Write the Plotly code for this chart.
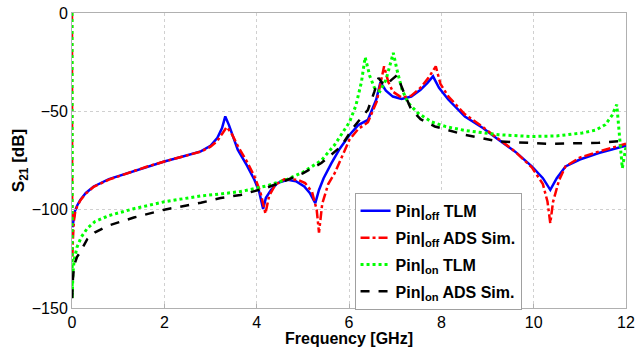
import plotly.graph_objects as go

# Pin|off TLM (blue)
off_tlm_x = [0.01, 0.03, 0.06, 0.11, 0.18, 0.3, 0.47, 0.8, 1.2, 1.6, 2.0, 2.4, 2.79, 3.0, 3.15, 3.25, 3.32,
             3.4, 3.59, 3.8, 3.95, 4.05, 4.14, 4.2, 4.31, 4.45, 4.67, 4.85, 5.03, 5.15, 5.27, 5.35, 5.45,
             5.62, 5.8, 6.01, 6.2, 6.41, 6.59, 6.68, 6.8, 6.95, 7.14, 7.35, 7.55, 7.7, 7.82, 7.95, 8.15,
             8.51, 8.9, 9.24, 9.6, 9.96, 10.2, 10.36, 10.5, 10.69, 11.0, 11.41, 11.7, 12.0]
off_tlm_y = [-109, -106, -101, -98, -95, -91.5, -88.2, -84.5, -81.4, -78.3, -75.5, -73, -70.4, -67.5, -63.5, -58.5, -52.6,
             -57, -69.5, -78, -84.8, -90.5, -99.6, -94, -90, -86.5, -84.8, -85.5, -88.2, -91.5, -96.7, -90, -84,
             -76.3, -69, -62, -57, -54.3, -44, -35.2, -39.5, -42.5, -43.7, -42.5, -39, -35.5, -32.2, -38, -44,
             -52.6, -58.5, -64.4, -70.5, -78, -84, -89.9, -84, -78, -74.5, -71.2, -69.5, -67.5]

# Pin|off ADS Sim. (red)
off_ads_x = [0, 0.005, 0.02, 0.04, 0.07, 0.11, 0.18, 0.3, 0.47, 0.8, 1.2, 1.6, 2.0, 2.4, 2.79, 3.0, 3.15, 3.25,
             3.35, 3.45, 3.6, 3.8, 3.95, 4.08, 4.19, 4.27, 4.4, 4.6, 4.89, 5.05, 5.2, 5.3, 5.35, 5.42, 5.55,
             5.69, 5.85, 6.01, 6.2, 6.41, 6.6, 6.7, 6.76, 6.85, 6.95, 7.14, 7.35, 7.55, 7.72, 7.88, 7.98,
             8.15, 8.51, 8.9, 9.24, 9.6, 9.96, 10.2, 10.3, 10.36, 10.42, 10.55, 10.69, 11.0, 11.41, 11.7, 12.0]
off_ads_y = [0, -126, -115, -106, -101, -98.5, -95.3, -91.8, -88.4, -84.7, -81.5, -78.3, -75.5, -73, -70.5, -68, -65, -61.5,
             -58, -61, -68, -76, -83, -91, -102, -93, -87.5, -84.5, -84.8, -86.5, -91, -100, -111.7, -97, -87,
             -81.4, -72.5, -64.4, -59, -55.5, -45, -34, -27.1, -35, -40, -43, -42, -38, -33, -27.1, -36,
             -42.4, -51.5, -58, -64, -70.5, -78.5, -87, -96, -106.9, -96, -85, -78, -73.5, -70.5, -68.5, -66.5]

# Pin|on TLM (green)
on_tlm_x = [0, 0.004, 0.02, 0.05, 0.11, 0.2, 0.33, 0.5, 0.8, 1.34, 2.0, 2.79, 3.22, 3.65, 4.2, 4.67, 5.0, 5.4,
            5.69, 6.01, 6.15, 6.27, 6.35, 6.45, 6.55, 6.67, 6.8, 6.9, 6.96, 7.05, 7.15, 7.28, 7.5, 7.79, 8.1,
            8.51, 9.24, 9.96, 10.5, 11.05, 11.35, 11.55, 11.7, 11.8, 11.86, 11.92, 11.97, 12.0]
on_tlm_y = [0, -145, -132, -125, -119, -114, -109.5, -106, -103, -99.5, -96, -93, -92, -90.8, -88, -84.5, -81, -75,
            -67, -55.5, -47, -35, -22.5, -32, -38, -39.8, -34, -25, -20.3, -30, -39, -45.7, -51, -55.4, -57.8,
            -59.7, -61.9, -62.8, -62.5, -61, -59.5, -56.8, -52, -46.6, -62, -78.9, -72, -68]

# Pin|on ADS Sim. (black)
on_ads_x = [0.004, 0.02, 0.05, 0.11, 0.18, 0.33, 0.5, 0.8, 1.34, 2.0, 2.79, 3.22, 3.65, 4.2, 4.67, 5.0, 5.4,
            5.83, 6.1, 6.41, 6.55, 6.64, 6.72, 6.79, 6.92, 7.04, 7.2, 7.35, 7.55, 7.86, 8.51, 9.24, 10.33, 11.41, 12.0]
on_ads_y = [-145, -135, -128, -124, -121.5, -115, -111.5, -108, -104, -100, -96.5, -94.1, -92.5, -89, -84.8, -81.5, -76.3,
            -67.8, -58, -49.2, -40, -33, -35.5, -36.9, -34, -31.7, -41, -49.2, -54, -57.7, -61.9, -65.3, -66.5, -66, -64.8]

names = ["<b>Pin|<sub>off</sub> TLM</b>", "<b>Pin|<sub>off</sub> ADS Sim.</b>",
         "<b>Pin|<sub>on</sub> TLM</b>", "<b>Pin|<sub>on</sub> ADS Sim.</b>"]

fig = go.Figure()
fig.add_trace(go.Scatter(x=off_tlm_x, y=off_tlm_y, mode="lines", name=names[0], legendgroup="a",
                         line=dict(color="#0000ff", width=2.5)))
fig.add_trace(go.Scatter(x=off_ads_x, y=off_ads_y, mode="lines", name=names[1], legendgroup="b",
                         line=dict(color="#ff0000", width=2.5, dash="dashdot")))
fig.add_trace(go.Scatter(x=on_tlm_x, y=on_tlm_y, mode="lines", name=names[2], legendgroup="c",
                         line=dict(color="#00ff00", width=3, dash="dot")))
fig.add_trace(go.Scatter(x=on_ads_x, y=on_ads_y, mode="lines", name=names[3], legendgroup="d",
                         line=dict(color="#000000", width=2.5, dash="dash")))

axis_common = dict(showgrid=True, gridcolor="#d0d0d0", griddash="dot", gridwidth=1,
                   showline=True, linecolor="#b0b0b0", linewidth=1, mirror=True,
                   zeroline=False, ticks="inside", ticklen=4, tickcolor="#b0b0b0",
                   automargin=False,
                   tickfont=dict(family="Liberation Sans, Arial", size=16, color="black"))

fig.update_layout(
    width=636, height=347,
    margin=dict(l=72, r=10, t=13, b=39),
    paper_bgcolor="white", plot_bgcolor="white",
    font=dict(family="Liberation Sans, Arial", color="black"),
    xaxis=dict(range=[0, 12], dtick=2, ticklabelstandoff=0,
               title=dict(text="<b>Frequency [GHz]</b>", font=dict(size=16), standoff=0),
               **axis_common),
    yaxis=dict(range=[-150, 0], dtick=50,
               title=dict(text="<b>S<sub>21</sub> [dB]</b>", font=dict(size=17), standoff=2),
               **axis_common),
    legend=dict(x=0.51, y=0.39, xanchor="left", yanchor="top",
                bgcolor="white", bordercolor="#a0a0a0", borderwidth=1,
                font=dict(size=16, family="Liberation Sans, Arial"),
                itemwidth=30, tracegroupgap=3),
    showlegend=True,
)

fig.write_html("out.html")
